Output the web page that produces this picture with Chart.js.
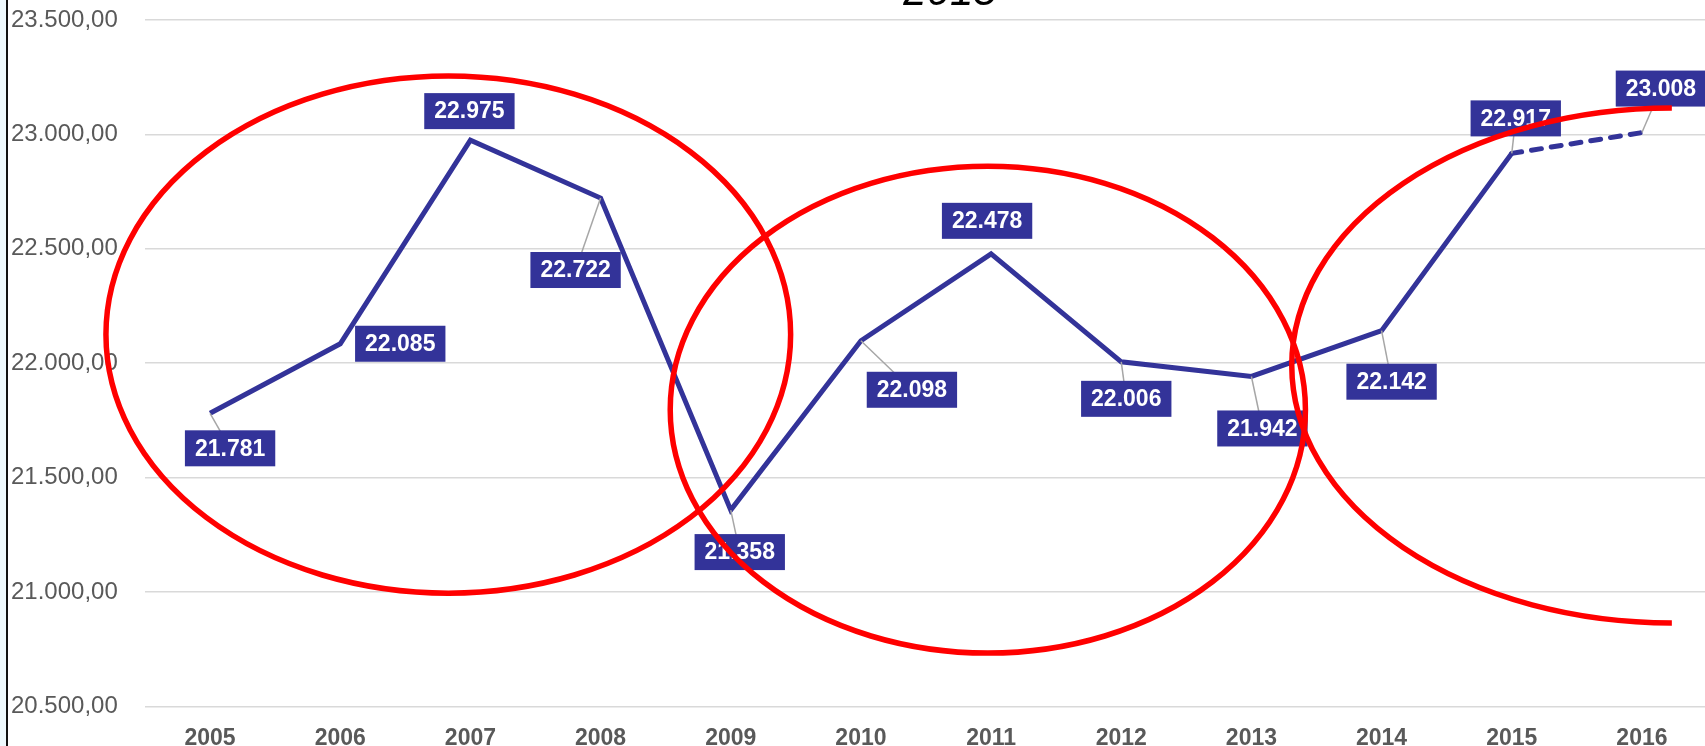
<!DOCTYPE html>
<html>
<head>
<meta charset="utf-8">
<script src="https://cdn.jsdelivr.net/npm/chart.js@4.4.0/dist/chart.umd.min.js"></script>
<style>
    html, body { margin: 0; padding: 0; background: #fff; overflow: hidden; width: 1705px; height: 746px; }
    #wrap { position: absolute; left: 0; top: -50px; width: 1710px; height: 820px; }
    #edgeStrip { position: absolute; left: 0; top: 0; width: 6px; height: 746px; background: #eef9fd; z-index: 2; }
    #edgeLine { position: absolute; left: 6px; top: 0; width: 2px; height: 746px; background: #111; z-index: 2; }
</style>
</head>
<body>
<div id="edgeStrip"></div>
<div id="edgeLine"></div>
<div id="wrap"><canvas id="trendChart" width="1710" height="820"></canvas></div>
<script>
const chartTitle = '2015';
const years = ['2005', '2006', '2007', '2008', '2009', '2010', '2011', '2012', '2013', '2014', '2015', '2016'];
const values = [21781, 22085, 22975, 22722, 21358, 22098, 22478, 22006, 21942, 22142, 22917, 23008];
const yTickValues = [20500, 21000, 21500, 22000, 22500, 23000, 23500];

// label box placement relative to its point (px), and whether a leader line shows
const labelOffsets = [[20, 35], [60, 0], [-1, -29], [-25, 72], [9, 42], [51, 49], [-4, -33], [5, 37], [11, 52], [10, 51], [4, -35], [19, -44]];
const showLeader = [true, false, false, true, true, true, false, true, true, true, true, true];

// red hand-drawn circles: centre in (category index, value), radii in (categories, value units)
const circles = [
    { x: 1.83, y: 22125, rx: 2.63, ry: 1130, from: 0, to: Math.PI * 2 },
    { x: 5.975, y: 21797, rx: 2.44, ry: 1064, from: 0, to: Math.PI * 2 },
    { x: 11.23, y: 21990, rx: 2.92, ry: 1125, from: Math.PI * 0.5, to: Math.PI * 1.5 }
];

const BLUE = '#333399';
const GREY_TEXT = '#595959';
const FONT = '"Liberation Sans", Arial, sans-serif';

function fmtNumber(v, decimals) {
    const parts = v.toFixed(decimals).split('.');
    const intPart = parts[0].replace(/\B(?=(\d{3})+(?!\d))/g, '.');
    return parts[1] ? intPart + ',' + parts[1] : intPart;
}

const dataLabels = {
    id: 'dataLabels',
    afterDatasetsDraw(chart) {
        const ctx = chart.ctx;
        const pts = chart.getDatasetMeta(0).data;
        ctx.save();
        // leader lines first, boxes cover their ends
        ctx.strokeStyle = '#a6a6a6';
        ctx.lineWidth = 1.5;
        pts.forEach((pt, i) => {
            if (!showLeader[i]) return;
            ctx.beginPath();
            ctx.moveTo(pt.x, pt.y);
            ctx.lineTo(pt.x + labelOffsets[i][0], pt.y + labelOffsets[i][1]);
            ctx.stroke();
        });
        ctx.font = 'bold 23px ' + FONT;
        ctx.textAlign = 'center';
        ctx.textBaseline = 'middle';
        pts.forEach((pt, i) => {
            const text = fmtNumber(values[i], 0);
            const w = ctx.measureText(text).width + 20;
            const h = 36;
            const cx = pt.x + labelOffsets[i][0];
            const cy = pt.y + labelOffsets[i][1];
            ctx.fillStyle = BLUE;
            ctx.fillRect(cx - w / 2, cy - h / 2, w, h);
            ctx.fillStyle = '#ffffff';
            ctx.fillText(text, cx, cy + 1);
        });
        ctx.restore();
    }
};

const redCircles = {
    id: 'redCircles',
    afterDraw(chart) {
        const ctx = chart.ctx;
        const xs = chart.scales.x, ys = chart.scales.y;
        ctx.save();
        ctx.strokeStyle = '#ff0000';
        ctx.lineWidth = 5.5;
        circles.forEach(c => {
            const cx = xs.getPixelForValue(c.x);
            const cy = ys.getPixelForValue(c.y);
            const rx = xs.getPixelForValue(c.x + c.rx) - cx;
            const ry = ys.getPixelForValue(c.y - c.ry) - cy;
            ctx.beginPath();
            ctx.ellipse(cx, cy, rx, ry, 0, c.from, c.to);
            ctx.stroke();
        });
        ctx.restore();
    }
};

const topTitle = {
    id: 'topTitle',
    afterDraw(chart) {
        const ctx = chart.ctx;
        const area = chart.chartArea;
        ctx.save();
        ctx.font = 'italic 42px ' + FONT;
        ctx.fillStyle = '#000';
        ctx.textAlign = 'center';
        ctx.textBaseline = 'alphabetic';
        ctx.fillText(chartTitle, (area.left + area.right) / 2 + 24, area.top - 15);
        ctx.restore();
    }
};

new Chart(document.getElementById('trendChart'), {
    type: 'line',
    data: {
        labels: years,
        datasets: [{
            data: values,
            borderColor: BLUE,
            borderWidth: 5,
            pointRadius: 0,
            tension: 0,
            segment: {
                borderDash: c => c.p1DataIndex === values.length - 1 ? [10, 10] : undefined,
                borderCapStyle: c => c.p1DataIndex === values.length - 1 ? 'round' : 'butt'
            }
        }]
    },
    options: {
        responsive: false,
        animation: false,
        devicePixelRatio: 1,
        layout: { padding: { top: 70, left: 11, right: 3, bottom: 0 } },
        plugins: { legend: { display: false }, tooltip: { enabled: false }, title: { display: false } },
        scales: {
            x: {
                offset: true,
                grid: { display: false, drawTicks: false },
                border: { display: false },
                ticks: {
                    color: GREY_TEXT,
                    font: { family: FONT, size: 23, weight: 'bold' },
                    padding: 18,
                    maxRotation: 0
                }
            },
            y: {
                min: yTickValues[0],
                max: yTickValues[yTickValues.length - 1],
                afterBuildTicks: scale => { scale.ticks = yTickValues.map(v => ({ value: v })); },
                afterFit: scale => { scale.width = 134; },
                grid: { color: '#d9d9d9', lineWidth: 1.5, drawTicks: false },
                border: { display: false },
                ticks: {
                    color: GREY_TEXT,
                    font: { family: FONT, size: 24 },
                    crossAlign: 'far',
                    callback: v => fmtNumber(v, 2)
                }
            }
        }
    },
    plugins: [dataLabels, redCircles, topTitle]
});
</script>
</body>
</html>
